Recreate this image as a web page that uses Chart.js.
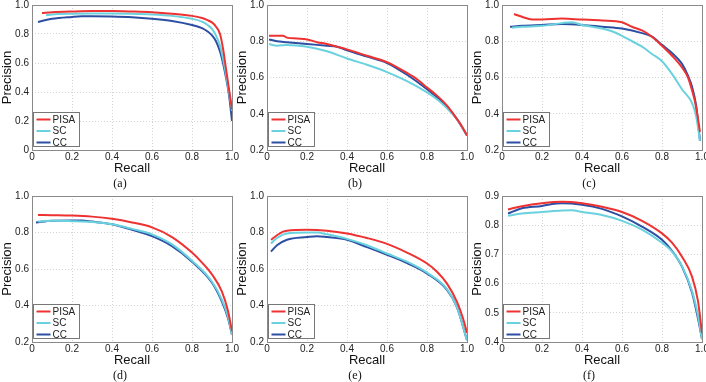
<!DOCTYPE html>
<html>
<head>
<meta charset="utf-8">
<script src="https://cdn.jsdelivr.net/npm/chart.js@4/dist/chart.umd.min.js"></script>
<style>
  body { margin: 0; background: #fff; width: 706px; height: 382px; overflow: hidden; position: relative; }
  canvas { position: absolute; }
  .cap { position: absolute; font: 12px "Liberation Serif", serif; color: #111; transform: translate(-50%, -50%); }
</style>
</head>
<body>
<script>
// precision-recall points, [recall, precision]
const aPISA = [[0.05,0.945],[0.1,0.95],[0.2,0.955],[0.3,0.958],[0.4,0.958],[0.5,0.955],[0.6,0.95],[0.7,0.94],[0.8,0.925],[0.85,0.91],[0.875,0.897],[0.9,0.88],[0.92,0.85],[0.94,0.8],[0.955,0.7],[0.97,0.56],[0.985,0.42],[1,0.28]];
const aSC = [[0.07,0.93],[0.1,0.935],[0.2,0.94],[0.3,0.942],[0.4,0.942],[0.5,0.94],[0.6,0.935],[0.7,0.925],[0.8,0.905],[0.85,0.885],[0.88,0.86],[0.9,0.835],[0.92,0.79],[0.94,0.72],[0.955,0.63],[0.97,0.52],[0.985,0.4],[1,0.27]];
const aCC = [[0.03,0.883],[0.1,0.905],[0.2,0.918],[0.25,0.922],[0.3,0.922],[0.4,0.92],[0.5,0.915],[0.6,0.905],[0.7,0.89],[0.8,0.862],[0.85,0.84],[0.88,0.815],[0.9,0.79],[0.92,0.75],[0.94,0.68],[0.955,0.6],[0.97,0.5],[0.985,0.38],[1,0.2]];

const bPISA = [[0.01,0.83],[0.05,0.83],[0.08,0.83],[0.1,0.82],[0.15,0.815],[0.2,0.81],[0.25,0.795],[0.3,0.785],[0.35,0.77],[0.4,0.755],[0.5,0.72],[0.6,0.685],[0.7,0.625],[0.75,0.59],[0.8,0.545],[0.85,0.5],[0.9,0.445],[0.95,0.37],[0.98,0.32],[1,0.28]];
const bSC = [[0.01,0.785],[0.05,0.775],[0.1,0.78],[0.2,0.77],[0.3,0.745],[0.4,0.705],[0.5,0.67],[0.6,0.63],[0.7,0.58],[0.8,0.518],[0.85,0.48],[0.9,0.43],[0.95,0.37],[1,0.28]];
const bCC = [[0.01,0.81],[0.05,0.8],[0.1,0.795],[0.2,0.785],[0.3,0.775],[0.35,0.77],[0.4,0.75],[0.5,0.715],[0.6,0.68],[0.7,0.615],[0.8,0.535],[0.85,0.49],[0.9,0.44],[0.95,0.37],[1,0.28]];

const cPISA = [[0.06,0.95],[0.1,0.935],[0.15,0.92],[0.2,0.92],[0.3,0.925],[0.4,0.92],[0.5,0.915],[0.6,0.905],[0.65,0.88],[0.7,0.86],[0.75,0.825],[0.8,0.775],[0.85,0.72],[0.9,0.655],[0.93,0.6],[0.95,0.53],[0.97,0.44],[0.99,0.3]];
const cSC = [[0.05,0.875],[0.1,0.88],[0.2,0.885],[0.3,0.9],[0.35,0.905],[0.4,0.89],[0.5,0.87],[0.55,0.855],[0.6,0.83],[0.65,0.8],[0.7,0.77],[0.75,0.73],[0.8,0.69],[0.85,0.62],[0.9,0.535],[0.95,0.46],[0.97,0.39],[0.99,0.25]];
const cCC = [[0.04,0.88],[0.1,0.885],[0.2,0.89],[0.3,0.895],[0.4,0.89],[0.5,0.88],[0.6,0.87],[0.7,0.845],[0.75,0.825],[0.8,0.78],[0.85,0.735],[0.9,0.675],[0.93,0.61],[0.95,0.55],[0.97,0.45],[0.99,0.25]];

const dPISA = [[0.03,0.896],[0.1,0.895],[0.2,0.893],[0.3,0.887],[0.4,0.875],[0.5,0.855],[0.6,0.828],[0.7,0.775],[0.8,0.69],[0.85,0.635],[0.9,0.57],[0.95,0.475],[0.98,0.37],[1,0.26]];
const dSC = [[0.03,0.86],[0.1,0.865],[0.2,0.862],[0.3,0.857],[0.4,0.845],[0.5,0.82],[0.6,0.79],[0.7,0.735],[0.8,0.645],[0.9,0.53],[0.95,0.43],[0.98,0.34],[1,0.24]];
const dCC = [[0.02,0.855],[0.1,0.865],[0.2,0.866],[0.25,0.866],[0.3,0.86],[0.4,0.845],[0.5,0.815],[0.6,0.78],[0.7,0.725],[0.8,0.64],[0.9,0.525],[0.95,0.42],[0.98,0.33],[1,0.24]];

const ePISA = [[0.02,0.76],[0.05,0.785],[0.08,0.805],[0.1,0.81],[0.2,0.815],[0.3,0.81],[0.4,0.795],[0.5,0.77],[0.6,0.738],[0.7,0.69],[0.8,0.63],[0.85,0.585],[0.9,0.52],[0.95,0.42],[0.98,0.33],[1,0.25]];
const eSC = [[0.02,0.74],[0.05,0.77],[0.1,0.795],[0.2,0.8],[0.25,0.8],[0.3,0.79],[0.4,0.765],[0.5,0.73],[0.6,0.685],[0.7,0.64],[0.8,0.58],[0.9,0.49],[0.95,0.39],[1,0.21]];
const eCC = [[0.02,0.695],[0.05,0.73],[0.1,0.76],[0.2,0.775],[0.25,0.78],[0.3,0.775],[0.4,0.76],[0.5,0.72],[0.6,0.678],[0.7,0.632],[0.8,0.575],[0.9,0.485],[0.95,0.39],[1,0.21]];

const fPISA = [[0.03,0.854],[0.1,0.865],[0.2,0.875],[0.3,0.88],[0.4,0.875],[0.5,0.863],[0.6,0.845],[0.7,0.815],[0.8,0.772],[0.85,0.74],[0.9,0.692],[0.95,0.624],[0.98,0.54],[1,0.43]];
const fSC = [[0.03,0.832],[0.1,0.84],[0.2,0.845],[0.3,0.85],[0.35,0.851],[0.4,0.845],[0.5,0.835],[0.6,0.815],[0.7,0.785],[0.8,0.74],[0.85,0.71],[0.9,0.66],[0.95,0.575],[0.98,0.49],[1,0.41]];
const fCC = [[0.03,0.84],[0.1,0.858],[0.2,0.866],[0.25,0.873],[0.3,0.875],[0.4,0.87],[0.5,0.856],[0.6,0.83],[0.7,0.795],[0.8,0.75],[0.85,0.712],[0.9,0.658],[0.95,0.57],[0.98,0.48],[1,0.41]];

const seriesNames = ["PISA", "SC", "CC"];
const seriesColors = ["#ee3232", "#6ad2de", "#2c4fa3"];
const captions = ["(a)", "(b)", "(c)", "(d)", "(e)", "(f)"];
const yRanges = [[0, 1, 0.2], [0.2, 1, 0.2], [0.2, 1, 0.2], [0.2, 1, 0.2], [0.2, 1, 0.2], [0.4, 0.9, 0.1]];
const panelData = [[aPISA, aSC, aCC], [bPISA, bSC, bCC], [cPISA, cSC, cCC], [dPISA, dSC, dCC], [ePISA, eSC, eCC], [fPISA, fSC, fCC]];

const plotLefts = [32, 267, 502];
const plotTops = [5, 196];
const plotHeights = [145, 146];
const capX = [120, 355, 589];
const capY = [183, 375];

// box round the plot area + the legend in the lower left corner
const framePlugin = {
  id: "frame",
  afterDraw(chart) {
    const { ctx, chartArea: a } = chart;
    ctx.save();
    ctx.strokeStyle = "#8a8a8a";
    ctx.lineWidth = 1;
    ctx.strokeRect(Math.round(a.left) + 0.5, Math.round(a.top) + 0.5, Math.round(a.right - a.left), Math.round(a.bottom - a.top));

    const lx = Math.round(a.left) + 1.5, ly = Math.round(a.bottom) - 37.5;
    ctx.fillStyle = "#fff";
    ctx.fillRect(lx, ly, 46, 34);
    ctx.strokeStyle = "#777";
    ctx.strokeRect(lx, ly, 46, 34);
    ctx.font = '10px "Liberation Sans", Arial, sans-serif';
    ctx.textBaseline = "middle";
    chart.data.datasets.forEach((ds, i) => {
      const y = ly + 7 + i * 11.5;
      ctx.strokeStyle = ds.borderColor;
      ctx.lineWidth = 2;
      ctx.beginPath();
      ctx.moveTo(lx + 3, y);
      ctx.lineTo(lx + 17, y);
      ctx.stroke();
      ctx.fillStyle = "#222";
      ctx.fillText(ds.label, lx + 19, y + 0.5);
    });
    ctx.restore();
  }
};

function makePanel(idx) {
  const col = idx % 3, row = Math.floor(idx / 3);
  const plotH = plotHeights[row];
  const canvas = document.createElement("canvas");
  canvas.width = 242;
  canvas.height = 190;
  canvas.style.left = (plotLefts[col] - 32) + "px";
  canvas.style.top = (plotTops[row] - 10) + "px";
  document.body.appendChild(canvas);

  const cap = document.createElement("div");
  cap.className = "cap";
  cap.textContent = captions[idx];
  cap.style.left = capX[col] + "px";
  cap.style.top = capY[row] + "px";
  document.body.appendChild(cap);

  const [yMin, yMax, yStep] = yRanges[idx];
  const tickFont = { family: '"Liberation Sans", Arial, sans-serif', size: 10 };
  const titleFont = { family: '"Liberation Sans", Arial, sans-serif', size: 13 };
  const grid = { color: "#d4d4d4", lineWidth: 1, drawTicks: false };

  new Chart(canvas, {
    type: "line",
    data: {
      datasets: panelData[idx].map((pts, i) => ({
        label: seriesNames[i],
        data: pts.map(p => ({ x: p[0], y: p[1] })),
        borderColor: seriesColors[i],
        borderWidth: 2,
        pointRadius: 0,
        cubicInterpolationMode: "monotone",
        fill: false
      }))
    },
    options: {
      responsive: false,
      animation: false,
      layout: { padding: { top: 10, right: 10, bottom: 154 - plotH, left: 0 } },
      plugins: { legend: { display: false }, tooltip: { enabled: false } },
      scales: {
        x: {
          type: "linear",
          min: 0,
          max: 1,
          ticks: { stepSize: 0.2, padding: 1, font: tickFont, color: "#222", maxRotation: 0 },
          grid: grid,
          border: { display: false, dash: [1, 2] },
          title: { display: true, text: "Recall", font: titleFont, color: "#111", padding: 0 },
          afterFit(s) { s.height = 26; }
        },
        y: {
          type: "linear",
          min: yMin,
          max: yMax,
          ticks: { stepSize: yStep, padding: 3, font: tickFont, color: "#222" },
          grid: grid,
          border: { display: false, dash: [1, 2] },
          title: { display: true, text: "Precision", font: titleFont, color: "#111", padding: 0 },
          afterFit(s) { s.width = 32; }
        }
      }
    },
    plugins: [framePlugin]
  });
}

for (let i = 0; i < 6; i++) makePanel(i);
</script>
</body>
</html>
